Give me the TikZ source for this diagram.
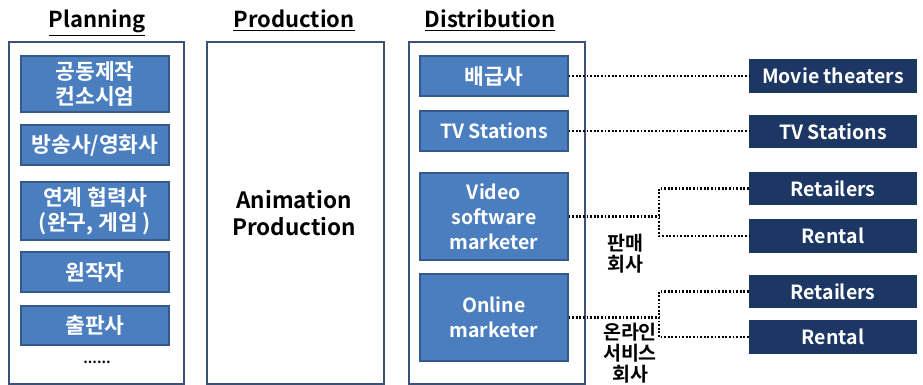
\documentclass[tikz,border=0pt]{standalone}
\usepackage{fontspec}
\setmainfont{Noto Sans CJK KR}[BoldFont={Noto Sans CJK KR Bold}]
\definecolor{boxblue}{HTML}{4A7EBF}
\definecolor{boxedge}{HTML}{35598A}
\definecolor{navy}{HTML}{1C3763}
\definecolor{frame}{HTML}{3A5276}
\newcommand{\hangul}{\fontsize{21.5}{26}\selectfont}
\tikzset{
  framebox/.style={draw=frame, line width=2pt, fill=white, anchor=north west, inner sep=0pt},
  bluebox/.style={draw=boxedge, line width=1.2pt, fill=boxblue, text=white, font=\bfseries\fontsize{19.5}{25}\selectfont, align=center, inner sep=0pt, minimum width=148pt},
  navybox/.style={fill=navy, text=white, font=\bfseries\fontsize{19.5}{24}\selectfont, align=center, inner sep=0pt, minimum width=168pt},
  header/.style={font=\bfseries\fontsize{22}{26}\selectfont, anchor=base},
  dotline/.style={line width=2.6pt, dash pattern=on 1.8pt off 1.8pt},
  sidelabel/.style={font=\bfseries\fontsize{19.5}{21}\selectfont, align=center}
}
\begin{document}
\begin{tikzpicture}[x=1pt, y=-1pt]
\useasboundingbox[fill=white] (0,0) rectangle (923,385);

% column headings
\node[header] (hplan) at (97,28) {\underline{Planning}};
\node[header] (hprod) at (294,28) {\underline{Production}};
\node[header] (hdist) at (490,28) {\underline{Distribution}};

% column frames
\node[framebox, minimum width=175pt, minimum height=342pt] (plan) at (8,41) {};
\node[framebox, minimum width=177pt, minimum height=342pt] (prod) at (206,41) {};
\node[framebox, minimum width=176pt, minimum height=342pt] (dist) at (408,41) {};

% planning partners
\node[bluebox, minimum height=56pt] (p1) at (95,84) {\hangul 공동제작\\\hangul 컨소시엄};
\node[bluebox, minimum height=40pt] (p2) at (95,145) {\hangul 방송사/영화사};
\node[bluebox, minimum height=58pt] (p3) at (95,211) {\hangul 연계 협력사\\\hangul (완구, 게임 )};
\node[bluebox, minimum height=40pt] (p4) at (95,272) {\hangul 원작자};
\node[bluebox, minimum height=39pt] (p5) at (95,325.5) {\hangul 출판사};
\node[font=\bfseries\fontsize{14}{16}\selectfont] (pmore) at (97,362) {......};

% production
\node[font=\bfseries\fontsize{22.5}{27}\selectfont, align=center] (anim) at (294,213) {Animation\\Production};

% distribution channels
\node[bluebox, minimum height=40pt] (d1) at (494,76) {\hangul 배급사};
\node[bluebox, minimum height=40pt] (d2) at (494,131) {TV Stations};
\node[bluebox, minimum height=87pt] (d3) at (494,216.5) {Video\\software\\marketer};
\node[bluebox, minimum height=87pt] (d4) at (494,317.5) {Online\\marketer};

% outlets
\node[navybox, minimum height=34pt] (r1) at (833,76) {Movie theaters};
\node[navybox, minimum height=33pt] (r2) at (833,131.5) {TV Stations};
\node[navybox, minimum height=33pt] (r3) at (833,188.5) {Retailers};
\node[navybox, minimum height=34pt] (r4) at (833,236) {Rental};
\node[navybox, minimum height=33pt] (r5) at (833,291.5) {Retailers};
\node[navybox, minimum height=34pt] (r6) at (833,337) {Rental};

% branch points
\coordinate (j1) at (659,216.5);
\coordinate (j2) at (659,317.5);

% connectors
\draw[dotline] (d1.east) -- (r1.west);
\draw[dotline] (d2.east) -- (d2.east -| r2.west);
\draw[dotline] (d3.east) -- (j1);
\draw[dotline] (r3.west) -| (j1) |- (r4.west);
\draw[dotline] (d4.east) -- (j2);
\draw[dotline] (r5.west) -| (j2) |- (r6.west);

% branch labels
\node[sidelabel] (l1) at (625,254) {판매\\회사};
\node[sidelabel] (l2) at (630,353) {온라인\\서비스\\회사};
\end{tikzpicture}
\end{document}
